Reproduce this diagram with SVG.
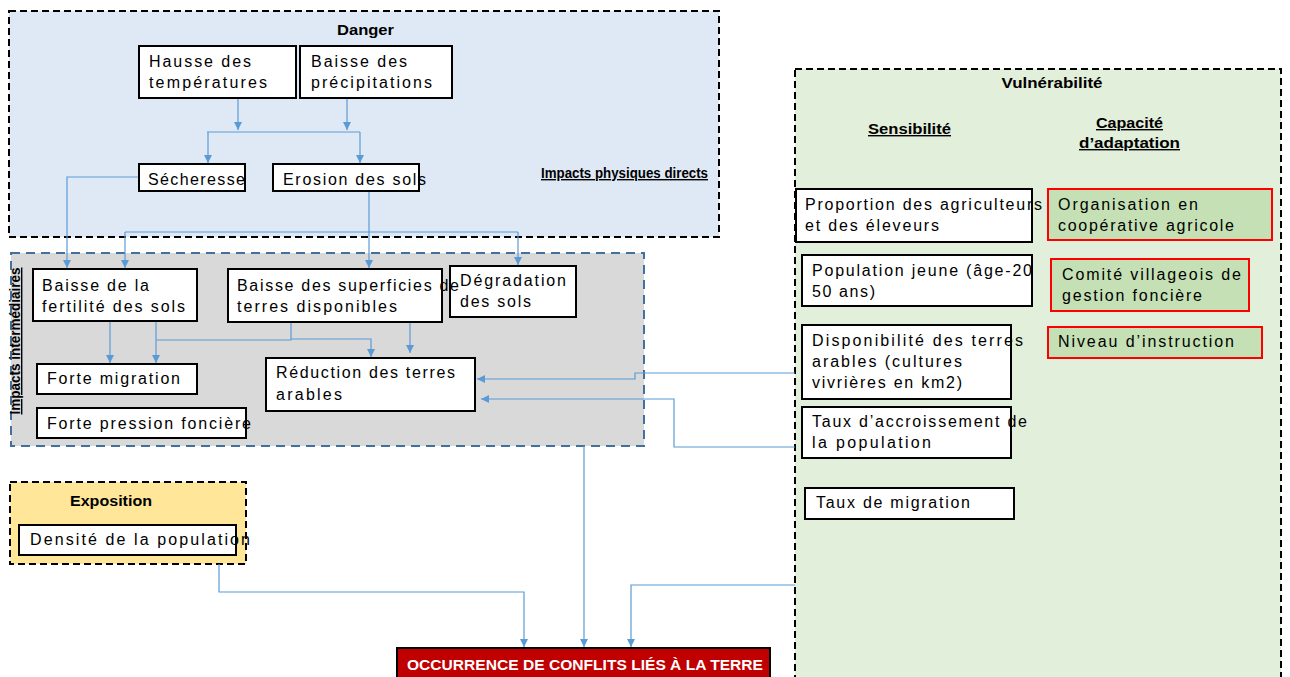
<svg xmlns="http://www.w3.org/2000/svg" width="1290" height="677" viewBox="0 0 1290 677">
<defs>
<style>
.t{font-family:"Liberation Sans",Arial,sans-serif;font-size:16px;fill:#000}
.b{font-family:"Liberation Sans",Arial,sans-serif;font-weight:bold;font-size:14px;fill:#000}
.u{text-decoration:underline}
.box{fill:#fff;stroke:#000;stroke-width:2}
.cap{fill:#c5e0b4;stroke:#ff0000;stroke-width:2}
.c{fill:none;stroke:#5b9bd5;stroke-width:1.2}
</style>
<marker id="ah" markerUnits="userSpaceOnUse" markerWidth="10" markerHeight="10" refX="8" refY="4" orient="auto">
<path d="M0,0 L8,4 L0,8 Z" fill="#5b9bd5"/>
</marker>
</defs>
<rect width="1290" height="677" fill="#fff"/>

<g id="group-danger">
<rect x="9" y="11" width="710" height="226" fill="#dee9f5" stroke="#000" stroke-width="2" stroke-dasharray="7,4"/>
<text class="b" x="365.5" y="35" text-anchor="middle" textLength="57" lengthAdjust="spacingAndGlyphs">Danger</text>
<text class="b u" x="541" y="178" font-size="12" textLength="167" lengthAdjust="spacingAndGlyphs">Impacts physiques directs</text>
</g>

<g id="group-impacts">
<rect x="11" y="253" width="633" height="193" fill="#d9d9d9" stroke="#41719c" stroke-width="2" stroke-dasharray="9,6"/>
<text class="b u" transform="translate(20,341) rotate(-90)" x="0" y="0" font-size="12" text-anchor="middle" textLength="147" lengthAdjust="spacingAndGlyphs">Impacts intermédiaires</text>
</g>

<g id="group-exposition">
<rect x="10" y="482" width="236" height="82" fill="#ffe699" stroke="#000" stroke-width="2" stroke-dasharray="7,4"/>
<text class="b" x="111" y="506" text-anchor="middle" textLength="82" lengthAdjust="spacingAndGlyphs">Exposition</text>
</g>

<g id="group-vulnerabilite">
<rect x="795" y="69" width="486" height="640" fill="#e2efda" stroke="#000" stroke-width="2" stroke-dasharray="7,4"/>
<text class="b" x="1052" y="88" text-anchor="middle" textLength="101" lengthAdjust="spacingAndGlyphs">Vulnérabilité</text>
<text class="b u" x="909.5" y="134" text-anchor="middle" textLength="83" lengthAdjust="spacingAndGlyphs">Sensibilité</text>
<text class="b u" x="1129.5" y="128" text-anchor="middle" textLength="67" lengthAdjust="spacingAndGlyphs">Capacité</text>
<text class="b u" x="1129.5" y="148" text-anchor="middle" textLength="101" lengthAdjust="spacingAndGlyphs">d’adaptation</text>
</g>

<g id="connectors">
<line class="c" x1="238" y1="98" x2="238" y2="130" marker-end="url(#ah)"/>
<line class="c" x1="347" y1="98" x2="347" y2="130" marker-end="url(#ah)"/>
<line class="c" x1="207" y1="132" x2="360" y2="132" stroke-width="2"/>
<line class="c" x1="208" y1="132" x2="208" y2="163" marker-end="url(#ah)"/>
<line class="c" x1="360" y1="132" x2="360" y2="163" marker-end="url(#ah)"/>
<polyline class="c" points="139,177 67,177 67,268" marker-end="url(#ah)"/>
<line class="c" x1="369" y1="191" x2="369" y2="268" marker-end="url(#ah)"/>
<line class="c" x1="125" y1="232" x2="518" y2="232"/>
<line class="c" x1="125" y1="232" x2="125" y2="268" marker-end="url(#ah)"/>
<line class="c" x1="518" y1="232" x2="518" y2="265" marker-end="url(#ah)"/>
<line class="c" x1="110" y1="321" x2="110" y2="363" marker-end="url(#ah)"/>
<line class="c" x1="156" y1="321" x2="156" y2="363" marker-end="url(#ah)"/>
<polyline class="c" points="291,322 291,340 156,340"/>
<polyline class="c" points="291,339 371,339 371,357" marker-end="url(#ah)"/>
<line class="c" x1="410" y1="322" x2="410" y2="353" marker-end="url(#ah)"/>
<polyline class="c" points="795,373 635,373 635,379 477,379" marker-end="url(#ah)"/>
<polyline class="c" points="795,447 674,447 674,399 481,399" marker-end="url(#ah)"/>
<line class="c" x1="584" y1="446" x2="584" y2="647" marker-end="url(#ah)"/>
<polyline class="c" points="219,564 219,592 524,592 524,647" marker-end="url(#ah)"/>
<polyline class="c" points="795,585 631,585 631,647" marker-end="url(#ah)"/>
</g>

<g id="n-hausse">
<rect class="box" x="139" y="46" width="157" height="52"/>
<text class="t" x="149" y="67" textLength="102" lengthAdjust="spacing">Hausse des</text>
<text class="t" x="149" y="88" textLength="118" lengthAdjust="spacing">températures</text>
</g>
<g id="n-precipitations">
<rect class="box" x="300" y="46" width="152" height="52"/>
<text class="t" x="311" y="67" textLength="96" lengthAdjust="spacing">Baisse des</text>
<text class="t" x="311" y="88" textLength="121" lengthAdjust="spacing">précipitations</text>
</g>
<g id="n-secheresse">
<rect class="box" x="139" y="164" width="106" height="27"/>
<text class="t" x="148" y="185" textLength="97" lengthAdjust="spacing">Sécheresse</text>
</g>
<g id="n-erosion">
<rect class="box" x="273" y="164" width="146" height="27"/>
<text class="t" x="283" y="185" textLength="143" lengthAdjust="spacing">Erosion des sols</text>
</g>

<g id="n-fertilite">
<rect class="box" x="33" y="269" width="164" height="52"/>
<text class="t" x="42" y="291" textLength="107" lengthAdjust="spacing">Baisse de la</text>
<text class="t" x="42" y="312" textLength="143" lengthAdjust="spacing">fertilité des sols</text>
</g>
<g id="n-degradation">
<rect class="box" x="450" y="266" width="126" height="51"/>
<text class="t" x="460" y="286" textLength="106" lengthAdjust="spacing">Dégradation</text>
<text class="t" x="460" y="307" textLength="71" lengthAdjust="spacing">des sols</text>
</g>
<g id="n-superficies">
<rect class="box" x="228" y="269" width="214" height="53"/>
<text class="t" x="237" y="291" textLength="222" lengthAdjust="spacing">Baisse des superficies de</text>
<text class="t" x="237" y="312" textLength="160" lengthAdjust="spacing">terres disponibles</text>
</g>
<g id="n-migration">
<rect class="box" x="37" y="364" width="160" height="30"/>
<text class="t" x="47" y="384" textLength="133" lengthAdjust="spacing">Forte migration</text>
</g>
<g id="n-pression">
<rect class="box" x="37" y="408" width="209" height="30"/>
<text class="t" x="47" y="429" textLength="204" lengthAdjust="spacing">Forte pression foncière</text>
</g>
<g id="n-reduction">
<rect class="box" x="266" y="358" width="209" height="53"/>
<text class="t" x="276" y="378" textLength="179" lengthAdjust="spacing">Réduction des terres</text>
<text class="t" x="276" y="400" textLength="66" lengthAdjust="spacing">arables</text>
</g>

<g id="n-densite">
<rect class="box" x="19" y="525" width="217" height="30"/>
<text class="t" x="30" y="545" textLength="220" lengthAdjust="spacing">Densité de la population</text>
</g>

<g id="n-proportion">
<rect class="box" x="796" y="189" width="236" height="53"/>
<text class="t" x="805" y="210" textLength="237" lengthAdjust="spacing">Proportion des agriculteurs</text>
<text class="t" x="805" y="231" textLength="134" lengthAdjust="spacing">et des éleveurs</text>
</g>
<g id="n-organisation">
<rect class="cap" x="1048" y="189" width="224" height="51"/>
<text class="t" x="1058" y="210" textLength="140" lengthAdjust="spacing">Organisation en</text>
<text class="t" x="1058" y="231" textLength="176" lengthAdjust="spacing">coopérative agricole</text>
</g>
<g id="n-popjeune">
<rect class="box" x="802" y="255" width="230" height="51"/>
<text class="t" x="812" y="276" textLength="220" lengthAdjust="spacing">Population jeune (âge-20</text>
<text class="t" x="812" y="297" textLength="63" lengthAdjust="spacing">50 ans)</text>
</g>
<g id="n-comite">
<rect class="cap" x="1051" y="259" width="198" height="52"/>
<text class="t" x="1062" y="280" textLength="179" lengthAdjust="spacing">Comité villageois de</text>
<text class="t" x="1062" y="301" textLength="140" lengthAdjust="spacing">gestion foncière</text>
</g>
<g id="n-disponibilite">
<rect class="box" x="802" y="325" width="209" height="74"/>
<text class="t" x="812" y="346" textLength="211" lengthAdjust="spacing">Disponibilité des terres</text>
<text class="t" x="812" y="367" textLength="150" lengthAdjust="spacing">arables (cultures</text>
<text class="t" x="812" y="388" textLength="150" lengthAdjust="spacing">vivrières en km2)</text>
</g>
<g id="n-niveau">
<rect class="cap" x="1048" y="327" width="214" height="31"/>
<text class="t" x="1058" y="347" textLength="176" lengthAdjust="spacing">Niveau d’instruction</text>
</g>
<g id="n-accroissement">
<rect class="box" x="802" y="407" width="209" height="51"/>
<text class="t" x="812" y="427" textLength="215" lengthAdjust="spacing">Taux d’accroissement de</text>
<text class="t" x="812" y="448" textLength="119" lengthAdjust="spacing">la population</text>
</g>
<g id="n-tauxmigration">
<rect class="box" x="805" y="488" width="209" height="31"/>
<text class="t" x="816" y="508" textLength="154" lengthAdjust="spacing">Taux de migration</text>
</g>

<g id="n-occurrence">
<rect x="397" y="648" width="373" height="40" fill="#c00000" stroke="#000" stroke-width="2"/>
<text class="b" x="585" y="670" font-size="15" style="fill:#fff" text-anchor="middle" textLength="356" lengthAdjust="spacingAndGlyphs">OCCURRENCE DE CONFLITS LIÉS À LA TERRE</text>
</g>
</svg>
